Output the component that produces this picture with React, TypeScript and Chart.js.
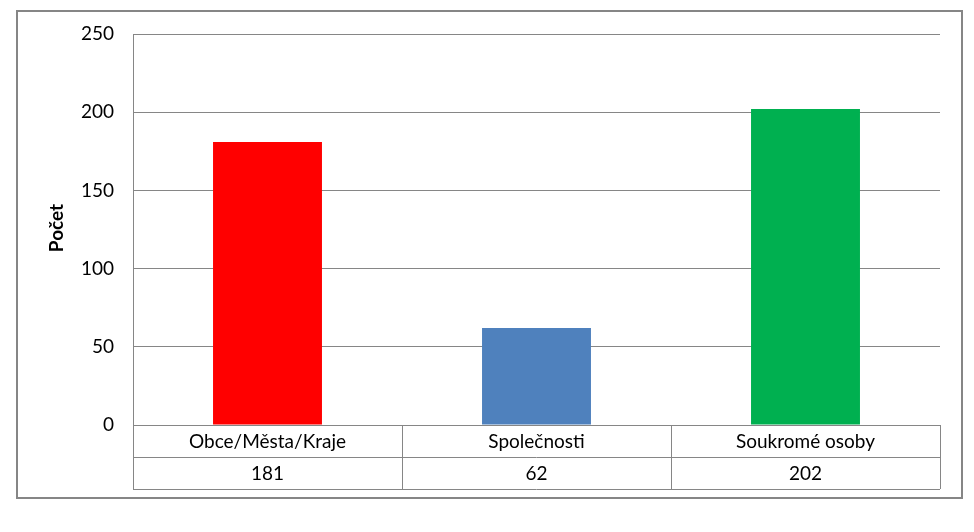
import { Chart, registerables } from "chart.js";
import { useEffect, useRef } from "react";

Chart.register(...registerables);

const categories = ["Obce/Města/Kraje", "Společnosti", "Soukromé osoby"];
const counts = [181, 62, 202];
const barColors = ["#FF0000", "#4F81BD", "#00B050"];
const yTicks = [0, 50, 100, 150, 200, 250];
const axisTitle = "Počet";

const FONT = "Lato, 'Open Sans', sans-serif";
const LINE = "#868686";

// draws the outer frame, y title and the data table under the plot
const excelLook = {
  id: "excelLook",
  beforeDraw(chart: any) {
    const ctx = chart.ctx;
    ctx.save();
    ctx.fillStyle = "#ffffff";
    ctx.fillRect(0, 0, chart.width, chart.height);
    ctx.strokeStyle = LINE;
    ctx.lineWidth = 2;
    ctx.strokeRect(17, 11, 945, 487);
    ctx.restore();
  },
  afterDraw(chart: any) {
    const ctx = chart.ctx;
    const { left, right, bottom } = chart.chartArea;
    const rowH = 32;
    const n = categories.length;
    const colW = (right - left) / n;
    ctx.save();
    ctx.strokeStyle = LINE;
    ctx.lineWidth = 1;
    ctx.beginPath();
    for (let r = 0; r <= 2; r++) {
      const y = Math.round(bottom + r * rowH) + 0.5;
      ctx.moveTo(left, y);
      ctx.lineTo(right, y);
    }
    for (let i = 0; i <= n; i++) {
      const x = Math.round(left + i * colW) + 0.5;
      ctx.moveTo(x, bottom);
      ctx.lineTo(x, bottom + 2 * rowH);
    }
    ctx.stroke();

    ctx.fillStyle = "#000000";
    ctx.font = `19px ${FONT}`;
    ctx.textAlign = "center";
    ctx.textBaseline = "middle";
    categories.forEach((c, i) => {
      const x = chart.scales.x.getPixelForValue(i);
      ctx.fillText(c, x, bottom + rowH / 2 + 1);
      ctx.fillText(String(counts[i]), x, bottom + rowH * 1.5 + 1);
    });

    ctx.translate(57, 228);
    ctx.rotate(-Math.PI / 2);
    ctx.font = `bold 19px ${FONT}`;
    ctx.fillText(axisTitle, 0, 0);
    ctx.restore();
  },
};

export default function App() {
  const canvasRef = useRef<HTMLCanvasElement>(null);
  useEffect(() => {
    let chart: Chart | null = null;
    if (canvasRef.current) {
      chart = new Chart(canvasRef.current, {
        type: "bar",
        data: {
          labels: categories,
          datasets: [
            {
              label: axisTitle,
              data: counts,
              backgroundColor: barColors,
              categoryPercentage: 1,
              barPercentage: 0.405,
            },
          ],
        },
        options: {
          animation: false,
          responsive: true,
          maintainAspectRatio: false,
          layout: { padding: { top: 34, right: 34, bottom: 107, left: 0 } },
          plugins: { legend: { display: false }, tooltip: { enabled: false } },
          scales: {
            x: { display: false, offset: true },
            y: {
              min: 0,
              max: 250,
              afterFit: (scale: any) => {
                scale.width = 133;
              },
              afterBuildTicks: (scale: any) => {
                scale.ticks = yTicks.map((v) => ({ value: v }));
              },
              grid: { color: LINE, drawTicks: false },
              border: { color: LINE },
              ticks: {
                padding: 19,
                color: "#000000",
                font: { family: FONT, size: 19 },
              },
            },
          },
        },
        plugins: [excelLook],
      });
    }
    return () => {
      if (chart) chart.destroy();
    };
  }, []);
  return (
    <div style={{ position: "fixed", left: 0, top: 0, width: 974, height: 532 }}>
      <canvas ref={canvasRef}></canvas>
    </div>
  );
}
